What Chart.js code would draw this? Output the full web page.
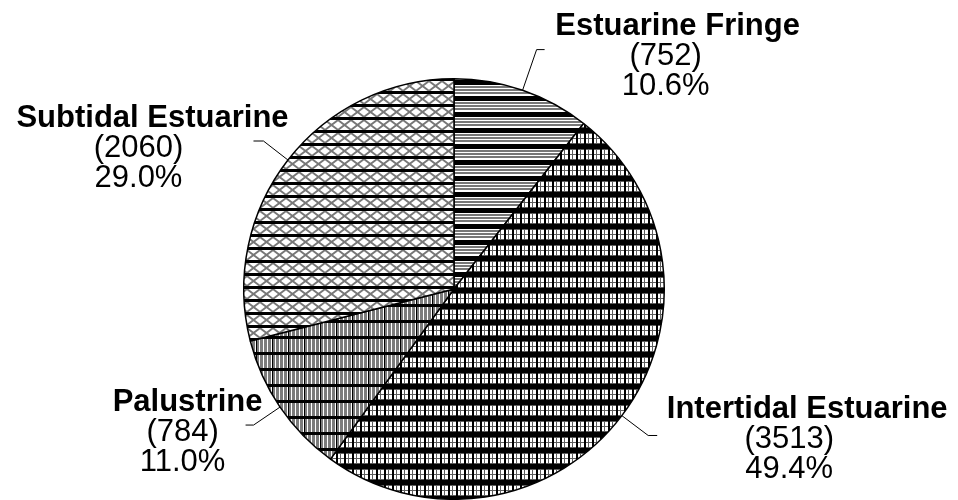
<!DOCTYPE html>
<html>
<head>
<meta charset="utf-8">
<script src="https://cdn.jsdelivr.net/npm/chart.js@4/dist/chart.umd.min.js"></script>
<style>
  html, body { margin: 0; padding: 0; background: #fff; }
  #wrap { width: 958px; height: 500px; position: relative; }
</style>
</head>
<body>
<div id="wrap"><canvas id="pie"></canvas></div>
<script>
// wetland class areas (ha)
const categories = ['Estuarine Fringe', 'Intertidal Estuarine', 'Palustrine', 'Subtidal Estuarine'];
const areas = [752, 3513, 784, 2060];

const total = areas.reduce((a, b) => a + b, 0);
const percents = areas.map(v => (v / total * 100).toFixed(1) + '%');

// hatch fills, one tile per class
function makePattern(w, h, draw) {
    const c = document.createElement('canvas');
    c.width = w;
    c.height = h;
    const g = c.getContext('2d');
    g.fillStyle = '#fff';
    g.fillRect(0, 0, w, h);
    draw(g);
    return g.createPattern(c, 'repeat');
}

const fills = [
    // horizontal lines with a heavy bar
    makePattern(4, 16, g => {
        g.fillStyle = '#000';
        g.fillRect(0, 0, 4, 5);
        g.fillStyle = '#777';
        g.fillRect(0, 6, 4, 2);
        g.fillRect(0, 9, 4, 2);
        g.fillRect(0, 12, 4, 2);
    }),
    // small squares between heavy bars
    makePattern(8, 16, g => {
        g.fillStyle = '#5e5e5e';
        g.fillRect(4, 5, 1, 11);
        g.fillRect(0, 5, 8, 1);
        g.fillRect(0, 10, 8, 1);
        g.fillRect(0, 15, 8, 1);
        g.fillStyle = '#000';
        g.fillRect(0, 0, 8, 5);
        g.fillRect(0, 5, 2, 11);
    }),
    // vertical grey lines with bars
    makePattern(16, 16, g => {
        g.fillStyle = '#7c7c7c';
        g.fillRect(0, 0, 16, 16);
        g.fillStyle = '#fff';
        for (let x = 3; x < 16; x += 4) g.fillRect(x, 0, 1, 16);
        g.fillStyle = '#000';
        g.fillRect(0, 0, 1, 16);
        g.fillRect(0, 0, 16, 3);
    }),
    // diagonal cross hatch with bars
    makePattern(13, 13, g => {
        g.strokeStyle = '#777';
        g.lineWidth = 1.8;
        g.beginPath();
        g.moveTo(0, 3); g.lineTo(13, 13);
        g.moveTo(13, 3); g.lineTo(0, 13);
        g.stroke();
        g.fillStyle = '#000';
        g.fillRect(0, 0, 13, 3);
    })
];

// leader length, shelf length, offsets of the name and number lines from the elbow
const callouts = [
    { leader: 43, shelf: 8, tx: 141, ty: -15, nx: 129 },
    { leader: 33, shelf: 9, tx: 159, ty: -17, nx: 141 },
    { leader: 32, shelf: -8, tx: -66, ty: -14, nx: -71 },
    { leader: 31, shelf: -10, tx: -111, ty: -14, nx: -125 }
];

const calloutPlugin = {
    id: 'callouts',
    afterDatasetsDraw(chart) {
        const ctx = chart.ctx;
        const meta = chart.getDatasetMeta(0);
        ctx.save();
        meta.data.forEach((arc, i) => {
            const p = arc.getProps(['x', 'y', 'outerRadius', 'startAngle', 'endAngle'], true);
            const mid = (p.startAngle + p.endAngle) / 2;
            const c = callouts[i];
            const cos = Math.cos(mid), sin = Math.sin(mid);
            const sx = p.x + cos * p.outerRadius;
            const sy = p.y + sin * p.outerRadius;
            const ex = p.x + cos * (p.outerRadius + c.leader);
            const ey = p.y + sin * (p.outerRadius + c.leader);

            ctx.strokeStyle = '#000';
            ctx.lineWidth = 1;
            ctx.beginPath();
            ctx.moveTo(sx, sy);
            ctx.lineTo(ex, ey);
            ctx.lineTo(ex + c.shelf, ey);
            ctx.stroke();

            ctx.fillStyle = '#000';
            ctx.textAlign = 'center';
            ctx.textBaseline = 'alphabetic';
            ctx.font = 'bold 31px "Liberation Sans", Arial, sans-serif';
            ctx.fillText(categories[i], ex + c.tx, ey + c.ty);
            ctx.font = '31px "Liberation Sans", Arial, sans-serif';
            ctx.fillText('(' + areas[i] + ')', ex + c.nx, ey + c.ty + 30);
            ctx.fillText(percents[i], ex + c.nx, ey + c.ty + 60);
        });
        ctx.restore();
    }
};

new Chart(document.getElementById('pie').getContext('2d'), {
    type: 'pie',
    data: {
        labels: categories,
        datasets: [{
            data: areas,
            backgroundColor: fills,
            borderColor: '#000',
            borderWidth: 1.5
        }]
    },
    options: {
        responsive: true,
        maintainAspectRatio: false,
        animation: false,
        layout: { padding: { top: 78, bottom: 0, left: 0, right: 50 } },
        plugins: {
            legend: { display: false },
            tooltip: { enabled: false }
        }
    },
    plugins: [calloutPlugin]
});
</script>
</body>
</html>
